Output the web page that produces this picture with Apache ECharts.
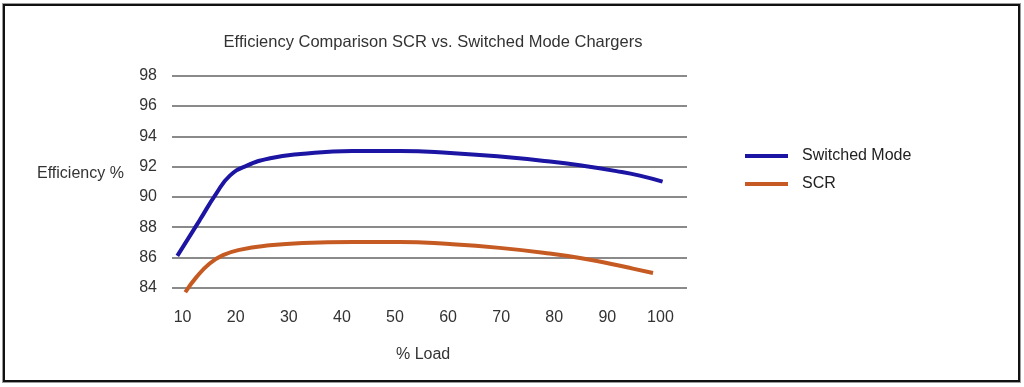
<!DOCTYPE html>
<html>
<head>
<meta charset="utf-8">
<title>Efficiency Comparison SCR vs. Switched Mode Chargers</title>
<script src="https://cdn.jsdelivr.net/npm/echarts@6/dist/echarts.min.js"></script>
<style>
  html, body { margin: 0; padding: 0; background: #fff; }
  #chart { width: 1024px; height: 387px; }
</style>
</head>
<body>
<div id="chart"></div>
<script>
// values
var loadTicks = [10, 20, 30, 40, 50, 60, 70, 80, 90, 100];
var switchedLoad = [9, 13.2, 16.3, 18.9, 22, 26.5, 32.2, 42, 51, 60.4, 69.8, 79.2, 85.4, 91.7, 96.1, 100.4];
var switchedEff  = [86.1, 88.45, 90.2, 91.4, 92.05, 92.55, 92.83, 93.03, 93.03, 92.9, 92.66, 92.33, 92.05, 91.7, 91.4, 91.0];
var scrLoad = [10.5, 12.6, 15.1, 17.6, 20.7, 26.4, 32.7, 42.1, 50.9, 60.3, 69.7, 79.1, 85.4, 91.7, 94.8, 98.6];
var scrEff  = [83.7, 84.7, 85.6, 86.15, 86.5, 86.8, 86.96, 87.02, 87.02, 86.88, 86.63, 86.26, 85.93, 85.5, 85.26, 84.97];

function pairs(xs, ys) {
  return xs.map(function (x, i) { return [x, ys[i]]; });
}

var font = 'Liberation Sans, Arial, sans-serif';
var chart = echarts.init(document.getElementById('chart'));

chart.setOption({
  animation: false,
  title: {
    text: 'Efficiency Comparison SCR vs. Switched Mode Chargers',
    left: 428,
    top: 29,
    textAlign: 'center',
    textStyle: { fontFamily: font, fontSize: 16.5, fontWeight: 'normal', color: '#333' }
  },
  grid: { left: 172, right: 337, top: 75.7, bottom: 99.3 },
  legend: {
    orient: 'vertical',
    left: 740,
    top: 143,
    itemWidth: 43,
    itemHeight: 4,
    itemGap: 12,
    icon: 'rect',
    textStyle: { fontFamily: font, fontSize: 16, color: '#222', padding: [0, 0, 0, 9] },
    data: ['Switched Mode', 'SCR']
  },
  xAxis: {
    type: 'value',
    min: 8,
    max: 105,
    axisLine: { show: false },
    axisTick: { show: false },
    splitLine: { show: false },
    axisLabel: {
      customValues: loadTicks,
      margin: 22,
      fontFamily: font,
      fontSize: 16,
      color: '#333'
    }
  },
  yAxis: {
    type: 'value',
    min: 84,
    max: 98,
    interval: 2,
    axisLine: { show: false },
    axisTick: { show: false },
    axisLabel: { margin: 15, fontFamily: font, fontSize: 16, color: '#333' },
    splitLine: { lineStyle: { color: '#8a8a8a', width: 2 } }
  },
  series: [
    {
      name: 'Switched Mode',
      type: 'line',
      smooth: true,
      clip: false,
      showSymbol: false,
      data: pairs(switchedLoad, switchedEff),
      itemStyle: { color: '#1c14a3' },
      lineStyle: { color: '#1c14a3', width: 4 }
    },
    {
      name: 'SCR',
      type: 'line',
      smooth: true,
      clip: false,
      showSymbol: false,
      data: pairs(scrLoad, scrEff),
      itemStyle: { color: '#c65a23' },
      lineStyle: { color: '#c65a23', width: 4 }
    }
  ],
  graphic: [
    {
      type: 'rect',
      z: -1,
      shape: { x: 3, y: 4, width: 1017, height: 378 },
      style: { fill: 'none', stroke: '#9a9a9a', lineWidth: 2 }
    },
    {
      type: 'rect',
      shape: { x: 4, y: 5, width: 1015, height: 376 },
      style: { fill: 'none', stroke: '#111', lineWidth: 2 }
    },
    {
      type: 'text',
      left: 37,
      top: 166,
      style: { text: 'Efficiency %', font: '16px ' + font, fill: '#333' }
    },
    {
      type: 'text',
      left: 396,
      top: 347,
      style: { text: '% Load', font: '16px ' + font, fill: '#333' }
    }
  ]
});
</script>
</body>
</html>
